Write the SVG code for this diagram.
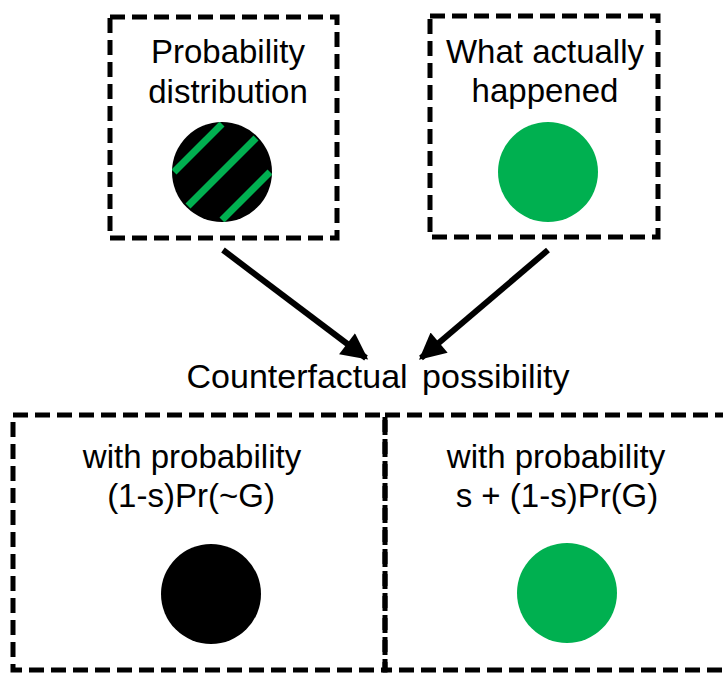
<svg xmlns="http://www.w3.org/2000/svg" width="723" height="673" viewBox="0 0 723 673">
<defs>
<style>
.box{fill:none;stroke:#000;stroke-width:5;stroke-dasharray:15 7}
.t{font-family:"Liberation Sans",Arial,sans-serif;font-size:33px;fill:#000;text-anchor:middle}
.arrow{stroke:#000;stroke-width:6;fill:none}
.stripe{stroke:#00B050;stroke-width:7;stroke-linecap:butt}
</style>
<marker id="ah" viewBox="0 0 10 10" refX="9" refY="5" markerWidth="4.8" markerHeight="4.4" orient="auto" markerUnits="strokeWidth">
<path d="M0,0 L10,5 L0,10 Z" fill="#000"/>
</marker>
<clipPath id="cc"><circle cx="222" cy="172" r="50"/></clipPath>
</defs>
<rect width="723" height="673" fill="#fff"/>
<g id="node-prob">
<rect class="box" x="110" y="17" width="227" height="221"/>
<text class="t" x="228" y="63">Probability</text>
<text class="t" x="228" y="103">distribution</text>
<circle cx="222" cy="172" r="50" fill="#000"/>
<g clip-path="url(#cc)">
<line class="stripe" x1="174" y1="172" x2="222" y2="124"/>
<line class="stripe" x1="188" y1="206" x2="256" y2="138"/>
<line class="stripe" x1="222" y1="220" x2="270" y2="172"/>
</g>
</g>
<g id="node-actual">
<rect class="box" x="430" y="16" width="228" height="221"/>
<text class="t" x="545" y="63">What actually</text>
<text class="t" x="545" y="102">happened</text>
<circle cx="548" cy="172" r="50" fill="#00B050"/>
</g>
<g id="node-counterfactual">
<text class="t" x="378" y="388" style="font-size:34px;word-spacing:5px">Counterfactual possibility</text>
</g>
<g id="node-notg">
<rect class="box" x="13" y="415" width="372" height="255"/>
<text class="t" x="192" y="468">with probability</text>
<text class="t" x="191" y="507">(1-s)Pr(~G)</text>
<circle cx="211" cy="594" r="50" fill="#000"/>
</g>
<g id="node-g">
<rect class="box" x="385" y="415" width="360" height="255"/>
<text class="t" x="556" y="468">with probability</text>
<text class="t" x="557" y="507">s + (1-s)Pr(G)</text>
<circle cx="567" cy="593" r="50" fill="#00B050"/>
</g>
<g id="connectors">
<line class="arrow" x1="223" y1="250" x2="366" y2="358" marker-end="url(#ah)"/>
<line class="arrow" x1="548" y1="250" x2="421" y2="358" marker-end="url(#ah)"/>
</g>
</svg>
